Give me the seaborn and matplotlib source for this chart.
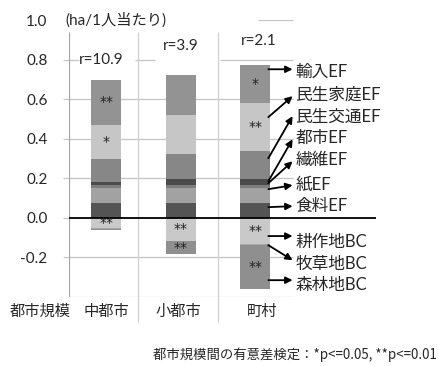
import matplotlib
matplotlib.use("Agg")
import matplotlib.pyplot as plt
import seaborn as sns
import numpy as np

# city size categories
sizes = ["中都市", "小都市", "町村"]
size_label_x = [0.0, 0.97, 2.09]
r_labels = ["r=10.9", "r=3.9", "r=2.1"]

# ecological footprint (positive), stacked from bottom up
ef_items = ["食料EF", "紙EF", "繊維EF", "都市EF", "民生交通EF", "民生家庭EF", "輸入EF"]
ef_values = {
    "食料EF": [0.074, 0.074, 0.076],
    "紙EF": [0.077, 0.079, 0.076],
    "繊維EF": [0.014, 0.013, 0.015],
    "都市EF": [0.017, 0.029, 0.029],
    "民生交通EF": [0.115, 0.126, 0.141],
    "民生家庭EF": [0.172, 0.197, 0.241],
    "輸入EF": [0.229, 0.202, 0.197],
}

# biocapacity (negative), stacked from zero down
bc_items = ["耕作地BC", "牧草地BC", "森林地BC"]
bc_values = {
    "耕作地BC": [-0.049, -0.116, -0.133],
    "牧草地BC": [-0.005, -0.003, -0.004],
    "森林地BC": [-0.009, -0.064, -0.223],
}

# significance marks per segment
marks = {
    "輸入EF": ["**", "", "*"],
    "民生家庭EF": ["*", "", "**"],
    "耕作地BC": ["**", "**", "**"],
    "森林地BC": ["", "**", "**"],
}

colors = {
    "食料EF": "#545454",
    "紙EF": "#a2a2a2",
    "繊維EF": "#7e7e7e",
    "都市EF": "#4b4b4b",
    "民生交通EF": "#878787",
    "民生家庭EF": "#c6c6c6",
    "輸入EF": "#939393",
    "耕作地BC": "#c9c9c9",
    "牧草地BC": "#a5a5a5",
    "森林地BC": "#8f8f8f",
}

# legend label placement: (arrow start y, arrow end y, label y)
legend_order = ["輸入EF", "民生家庭EF", "民生交通EF", "都市EF", "繊維EF", "紙EF", "食料EF",
                "耕作地BC", "牧草地BC", "森林地BC"]
arrow_start_y = [0.751, 0.509, 0.301, 0.185, 0.175, 0.145, 0.054, -0.092, -0.138, -0.315]
arrow_end_y = [0.751, 0.615, 0.514, 0.397, 0.286, 0.165, 0.059, -0.092, -0.214, -0.315]
label_y = [0.738, 0.625, 0.511, 0.403, 0.291, 0.170, 0.061, -0.120, -0.231, -0.340]

sns.set_theme(style="white")
plt.rcParams["font.family"] = ["Lato", "Noto Sans CJK JP", "DejaVu Sans"]

fig = plt.figure(figsize=(4.38, 3.66), dpi=100)
ax = fig.add_axes([69 / 438, 1 - 297 / 366, (376 - 69) / 438, (297 - 20) / 366])


def draw_stack(items, values):
    bottom = np.zeros(3)
    for name in items:
        vals = np.array(values[name])
        sns.barplot(x=sizes, y=vals, order=sizes, bottom=bottom, color=colors[name],
                    width=0.4, linewidth=0, saturation=1, errorbar=None, ax=ax, zorder=2)
        for i, m in enumerate(marks.get(name, ["", "", ""])):
            if m:
                ax.text(i, bottom[i] + vals[i] / 2, m, ha="center", va="center",
                        fontsize=10, family="DejaVu Sans", color="#222222", zorder=4)
        bottom += vals


draw_stack(ef_items, ef_values)
draw_stack(bc_items, bc_values)

ax.set_xlim(-0.5, 3.62)
ax.set_ylim(-0.4, 1.0)
for s in ax.spines.values():
    s.set_visible(False)

grid_c = "#c4c4c4"
# horizontal gridlines (partly hidden behind text boxes in the original)
for y in [-0.4, -0.2, 0.2, 0.4, 0.6]:
    ax.hlines(y, -0.5, 2.5, color=grid_c, lw=0.9, zorder=1)
for x0, x1 in [(-0.5, -0.37), (0.39, 0.66), (1.53, 2.5)]:
    ax.hlines(0.8, x0, x1, color=grid_c, lw=0.9, zorder=1)
ax.hlines(1.0, 2.03, 2.5, color=grid_c, lw=0.9, zorder=1)
# category separators
for x in [0.43, 1.5]:
    ax.vlines(x, -0.527, 0.94, color="#d0d0d0", lw=0.9, zorder=1, clip_on=False)
ax.vlines(-0.5, -0.4, 0.94, color="#a6a6a6", lw=0.9, zorder=1)
ax.axhline(0, color="black", lw=1.3, zorder=3)

ax.set_xticks([])
ax.set_xlabel("")
ax.set_yticks([-0.2, 0.0, 0.2, 0.4, 0.6, 0.8, 1.0])
ax.set_yticklabels(["-0.2", "0.0", "0.2", "0.4", "0.6", "0.8", "1.0"])
ax.tick_params(axis="y", left=True, length=4.5, width=0.8, color=grid_c, pad=11, labelsize=11)
ax.yaxis.get_major_ticks()[-1].tick1line.set_visible(False)

ax.text(-0.55, 1.0, "(ha/1人当たり)", ha="left", va="center", fontsize=11)
r_pos = [(-0.07, 0.8), (1.0, 0.867), (2.05, 0.894)]
for (x, y), t in zip(r_pos, r_labels):
    ax.text(x, y, t, ha="center", va="center", fontsize=11)

for x, t in zip(size_label_x, sizes):
    ax.text(x, -0.476, t, ha="center", va="center", fontsize=11, clip_on=False)
ax.text(-0.886, -0.476, "都市規模", ha="center", va="center", fontsize=11, clip_on=False)

for name, ys, ye, ly in zip(legend_order, arrow_start_y, arrow_end_y, label_y):
    ax.annotate("", xy=(2.50, ye), xytext=(2.175, ys),
                arrowprops=dict(arrowstyle="-|>", color="black", lw=1.3,
                                mutation_scale=10, shrinkA=0, shrinkB=0), zorder=5)
    ax.text(2.535, ly, name, ha="left", va="center", fontsize=12)

fig.text(0.998, 1 - 355 / 366, "都市規模間の有意差検定：*p<=0.05, **p<=0.01",
         ha="right", va="center", fontsize=9.6, family=["Noto Sans CJK JP", "DejaVu Sans"])

fig.savefig("out.png", dpi=100)
